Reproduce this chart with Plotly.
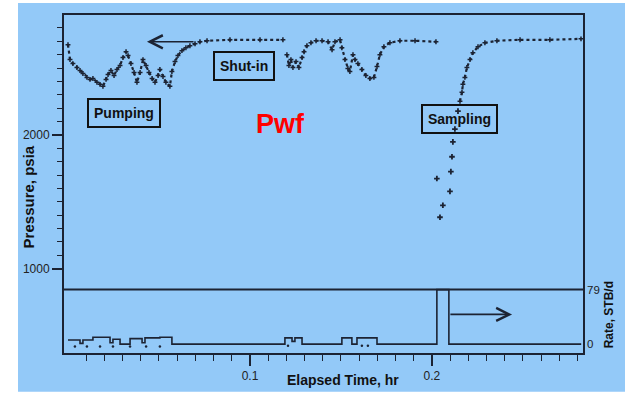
import plotly.graph_objects as go

# ---------------- data ----------------
# Pumping + first shut-in (hr, psia)
p1_time = [0.0, 0.0011, 0.0027, 0.0049, 0.0066, 0.0082, 0.0104, 0.0121, 0.0137, 0.0159, 0.0176, 0.0192,
           0.0209, 0.0220, 0.0236, 0.0253, 0.0269, 0.0286, 0.0302, 0.0319, 0.0330, 0.0346, 0.0363, 0.0379,
           0.0396, 0.0412, 0.0429, 0.0445, 0.0462, 0.0478, 0.0495, 0.0505, 0.0522, 0.0538, 0.0560,
           0.0571, 0.0588, 0.0604, 0.0626, 0.0648, 0.0670, 0.0698, 0.0725, 0.0764, 0.0890, 0.1055, 0.1181]
p1_psia = [2674, 2563, 2533, 2504, 2481, 2459, 2430, 2415, 2422, 2393, 2378, 2363,
           2415, 2452, 2481, 2444, 2489, 2519, 2578, 2622, 2593, 2533, 2467, 2393,
           2467, 2563, 2519, 2467, 2422, 2393, 2444, 2489, 2437, 2393, 2363,
           2474, 2548, 2593, 2630, 2652, 2667, 2681, 2696, 2704, 2711, 2711, 2711]

# Second pumping period + shut-in
p2_time = [0.1203, 0.1214, 0.1225, 0.1236, 0.1253, 0.1269, 0.1286, 0.1297, 0.1313, 0.1335,
           0.1363, 0.1396, 0.1429, 0.1451, 0.1467, 0.1495, 0.1505, 0.1522, 0.1538, 0.1549,
           0.1566, 0.1577, 0.1593, 0.1615, 0.1637, 0.1659, 0.1681, 0.1698, 0.1714, 0.1736,
           0.1769, 0.1824, 0.1907, 0.2022]
p2_psia = [2600, 2518, 2563, 2504, 2548, 2504, 2578, 2622, 2667, 2689,
           2704, 2704, 2696, 2637, 2696, 2711, 2652, 2563, 2496, 2474,
           2600, 2563, 2533, 2489, 2444, 2422, 2430, 2511, 2600, 2659,
           2689, 2704, 2704, 2696]

# Sampling drawdown points
draw_time = [0.2027, 0.2044, 0.2060, 0.2099, 0.2104, 0.2110, 0.2115, 0.2126, 0.2143]
draw_psia = [1674, 1385, 1474, 1578, 1726, 1837, 1948, 2044, 2178]

# Build-up after sampling
rec_time = [0.2154, 0.2165, 0.2170, 0.2181, 0.2192, 0.2209, 0.2225, 0.2253, 0.2291, 0.2357, 0.2484, 0.2648, 0.2819]
rec_psia = [2252, 2319, 2378, 2430, 2504, 2563, 2615, 2659, 2689, 2704, 2711, 2711, 2718]

# Rate history (step), STB/d
rate_time = [0.0, 0.0066, 0.0082, 0.0137, 0.0231, 0.0247, 0.0286, 0.0341, 0.0407, 0.0423, 0.0505, 0.0571,
             0.1192, 0.1231, 0.1247, 0.1286, 0.1505, 0.1560, 0.1588, 0.1698, 0.2027, 0.2093, 0.2820]
rate_stb = [6, 1, 6, 10, 2, 7, 0, 8, 2, 9, 10, 0,
            9, 4, 9, 0, 9, 0, 9, 0, 79, 0, 0]

# small rate points under the step line
rpt_time = [0.0038, 0.0104, 0.0176, 0.0247, 0.0341, 0.0429, 0.0505, 0.1209, 0.1615, 0.1648]
rpt_stb = [-3.5, -3.5, -3.5, -3.5, -3.5, -3.5, -3.5, -2.5, -2.5, -2.5]

x_major = [0.1, 0.2]
x_major_text = ["0.1", "0.2"]
y_major = [1000, 2000]
y_major_text = ["1000", "2000"]
rate_ticks = [0, 79]
rate_ticktext = ["0", "79"]

# ---------------- styling ----------------
INK = "#1c2333"
BLUE = "#93C9F8"
FONT = "Arial"

fig = go.Figure()

for tt, pp in [(p1_time, p1_psia), (p2_time, p2_psia), (rec_time, rec_psia)]:
    fig.add_trace(go.Scatter(x=tt, y=pp, mode="lines+markers",
                             line=dict(color=INK, width=2.2, dash="dot"),
                             marker=dict(color=INK, size=3.5, symbol="cross-thin",
                                         line=dict(color=INK, width=1.5)),
                             showlegend=False, hoverinfo="skip"))

fig.add_trace(go.Scatter(x=draw_time, y=draw_psia, mode="markers",
                         marker=dict(color=INK, size=4, symbol="cross-thin",
                                     line=dict(color=INK, width=1.8)),
                         showlegend=False, hoverinfo="skip"))

fig.add_trace(go.Scatter(x=rate_time, y=rate_stb, mode="lines", line_shape="hv",
                         line=dict(color=INK, width=1.6), yaxis="y2",
                         showlegend=False, hoverinfo="skip"))
fig.add_trace(go.Scatter(x=rpt_time, y=rpt_stb, mode="markers", yaxis="y2",
                         marker=dict(color=INK, size=2.5),
                         showlegend=False, hoverinfo="skip"))

L, R, T, B = 64, 44, 15, 39
W, H = 627, 395
PW, PH = W - L - R, H - T - B


def px(xp):
    return (xp - L) / PW


def py(yp):
    return (H - B - yp) / PH


# background (blue slide area with white margins)
fig.add_shape(type="rect", xref="paper", yref="paper", x0=px(18), x1=px(625), y0=py(395), y1=py(3),
              fillcolor=BLUE, line=dict(width=0), layer="below")

# rate 79 reference line
fig.add_shape(type="line", xref="paper", yref="y2", x0=0, x1=1, y0=79, y1=79,
              line=dict(color=INK, width=2))

fig.update_layout(
    width=W, height=H, autosize=False,
    margin=dict(l=L, r=R, t=T, b=B, pad=0),
    paper_bgcolor="white", plot_bgcolor="rgba(0,0,0,0)",
    font=dict(family=FONT, color="#222222", size=12),
    xaxis=dict(range=[-0.0022, 0.2830], showgrid=False, zeroline=False,
               showline=True, mirror=True, linecolor=INK, linewidth=2,
               tickmode="array", tickvals=x_major, ticktext=x_major_text,
               ticks="outside", ticklen=11, tickwidth=1.5, tickcolor=INK,
               tickfont=dict(size=12),
               minor=dict(tickmode="array",
                          tickvals=[i / 100 for i in range(1, 29) if i not in (10, 20)],
                          ticks="outside", ticklen=6, tickwidth=1.2, tickcolor=INK)),
    yaxis=dict(range=[370.4, 2896.3], showgrid=False, zeroline=False,
               showline=True, mirror=True, linecolor=INK, linewidth=2,
               tickmode="array", tickvals=y_major, ticktext=y_major_text,
               ticks="outside", ticklen=10, tickwidth=1.5, tickcolor=INK,
               tickfont=dict(size=12),
               minor=dict(tickmode="array",
                          tickvals=[v for v in range(1100, 2900, 100) if v != 2000],
                          ticks="outside", ticklen=5, tickwidth=1.2, tickcolor=INK)),
    yaxis2=dict(range=[-12.9, 476.9], overlaying="y", side="right", showgrid=False,
                zeroline=False, showline=False, tickmode="array", tickvals=rate_ticks,
                ticktext=rate_ticktext, ticks="", ticklabelstandoff=3,
                tickfont=dict(size=11.5)),
)

ann = []
box = dict(bordercolor="#111111", borderwidth=2, borderpad=5, bgcolor="rgba(0,0,0,0)")
ann.append(dict(text="<b>Pumping</b>", x=px(124), y=py(114), font=dict(size=14, color="#111"), **box))
ann.append(dict(text="<b>Shut-in</b>", x=px(244), y=py(66), font=dict(size=14, color="#111"), **box))
ann.append(dict(text="<b>Sampling</b>", x=px(459), y=py(120), font=dict(size=14, color="#111"), **box))
ann.append(dict(text="<b>Pwf</b>", x=px(280), y=py(125), font=dict(size=27, color="#FF0000")))
ann.append(dict(text="<b>Pressure, psia</b>", x=px(28), y=py(199), textangle=-90,
                font=dict(size=15, color="#111")))
ann.append(dict(text="<b>Elapsed Time, hr</b>", x=px(343), y=py(383), font=dict(size=14, color="#111")))
ann.append(dict(text="<b>Rate, STB/d</b>", x=px(609), y=py(318), textangle=-90,
                font=dict(size=12, color="#111")))
for a in ann:
    a.update(xref="paper", yref="paper", showarrow=False, xanchor="center", yanchor="middle")

# arrows
ann.append(dict(x=0.0434, y=2696, ax=0.0698, ay=2696, xref="x", yref="y", axref="x", ayref="y",
                showarrow=True, arrowhead=5, arrowsize=1.6, arrowwidth=1.6, arrowcolor=INK, text=""))
ann.append(dict(x=0.2440, y=43, ax=0.2093, ay=43, xref="x", yref="y2", axref="x", ayref="y2",
                showarrow=True, arrowhead=5, arrowsize=1.6, arrowwidth=1.6, arrowcolor=INK, text=""))
fig.update_layout(annotations=ann)

fig.write_html("out.html")
